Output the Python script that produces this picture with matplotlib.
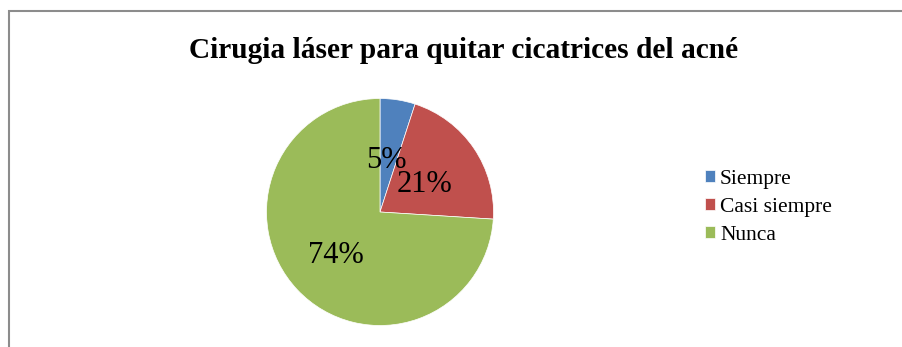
import matplotlib
matplotlib.use('Agg')
import matplotlib.pyplot as plt
from matplotlib.patches import Rectangle

plt.rcParams['font.family'] = ['Liberation Serif', 'DejaVu Serif']

# Survey answers
categories = ['Siempre', 'Casi siempre', 'Nunca']
percentages = [5, 21, 74]
colors = ['#4F81BD', '#C0504D', '#9BBB59']
title = 'Cirugia láser para quitar cicatrices del acné'

W, H = 903, 347
fig = plt.figure(figsize=(W / 100, H / 100), dpi=100)

# chart area frame (right and bottom edges run off the image)
fig.patches.append(Rectangle((8.5 / W, -0.1), 1.2, (H - 11.5) / H + 0.1,
                             transform=fig.transFigure, fill=False,
                             edgecolor='#8c8c8c', linewidth=1.5))

fig.text(464 / W, 1 - 51 / H, title, ha='center', va='center',
         fontsize=21.2, fontweight='bold')

cx, cy, r = 380, 212, 113.5
ax = fig.add_axes([(cx - r) / W, 1 - (cy + r) / H, 2 * r / W, 2 * r / H])
wedges, texts, autotexts = ax.pie(
    percentages, colors=colors, startangle=90, counterclock=False,
    autopct=lambda p: f'{p:.0f}%', pctdistance=0.5, radius=1,
    wedgeprops=dict(linewidth=0.5, edgecolor='white'),
    textprops=dict(fontsize=22, color='black'))
# nudge the percentage labels down a little
for t in autotexts:
    x, y = t.get_position()
    t.set_position((x - 0.02, y - 0.04))
ax.set_xlim(-1, 1)
ax.set_ylim(-1, 1)
ax.set_aspect('equal')

leg = fig.legend(wedges, categories, loc='upper left',
                 bbox_to_anchor=(696 / W, 1 - 161 / H),
                 frameon=False, fontsize=15.5, handlelength=0.5,
                 handleheight=0.5, handletextpad=0.22, labelspacing=0.42,
                 borderaxespad=0)

fig.savefig('out.png', dpi=100)
